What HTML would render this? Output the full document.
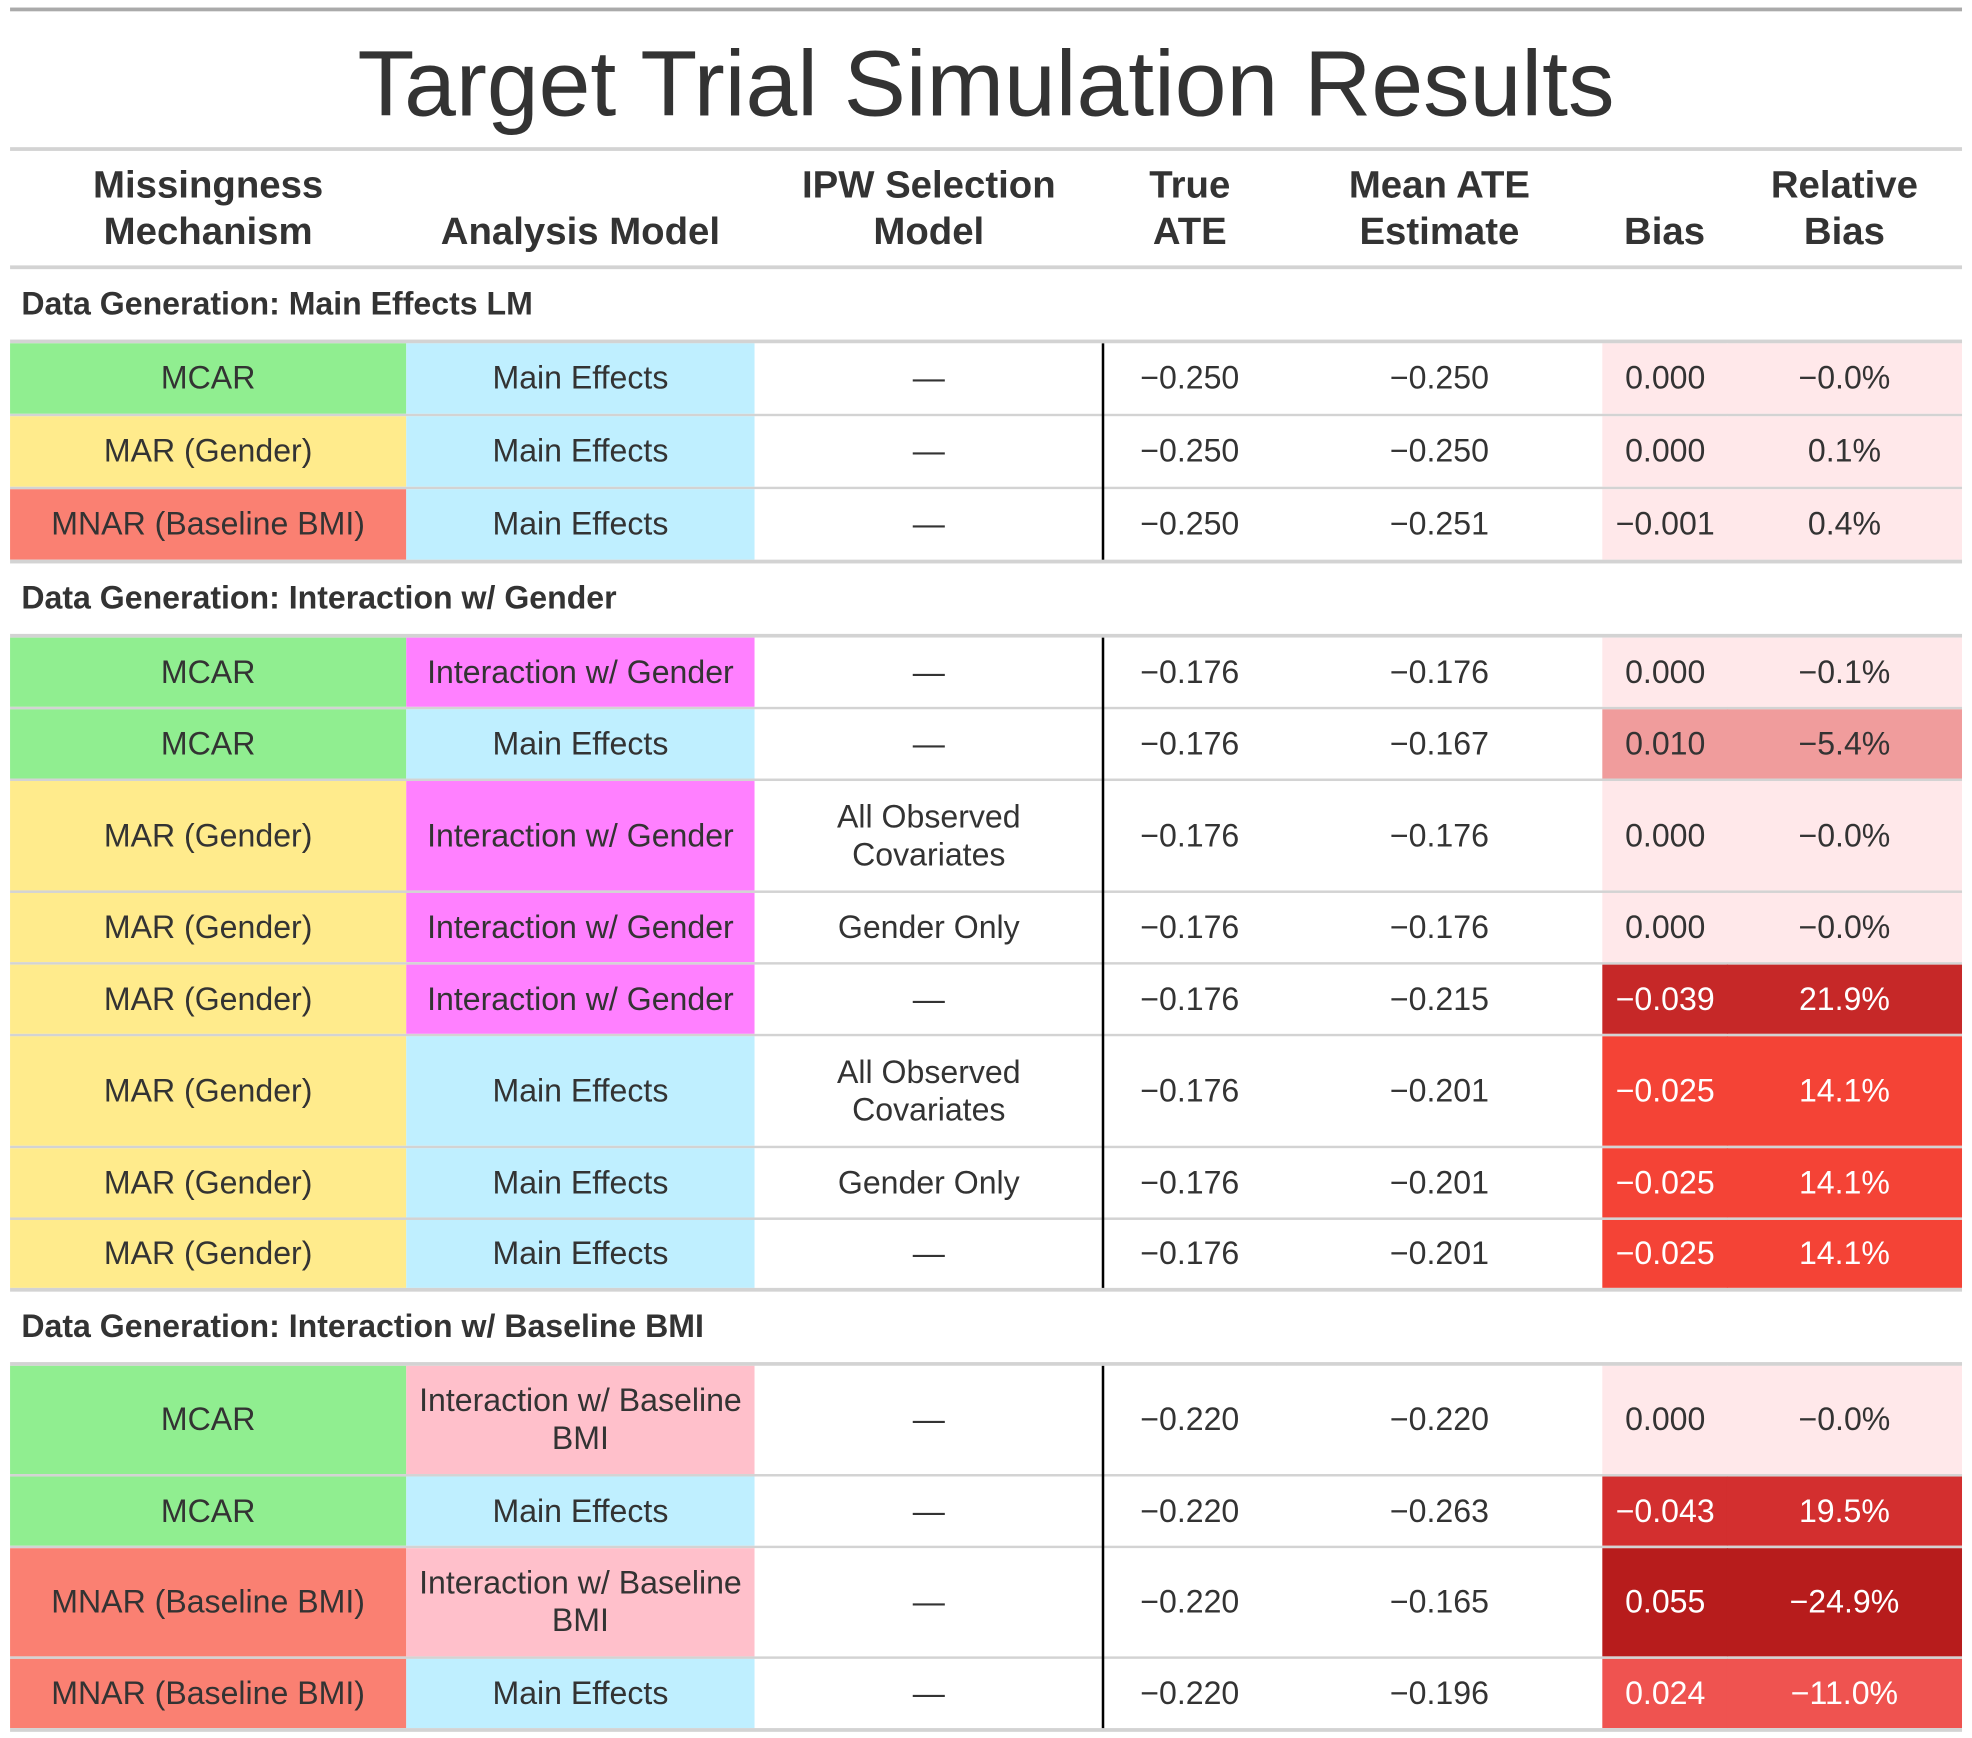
<!DOCTYPE html>
<html><head><meta charset="utf-8"><style>
html,body{margin:0;padding:0;background:#fff;}
body{width:1972px;height:1738px;overflow:hidden;position:relative;font-family:"Liberation Sans",sans-serif;color:#333;}
#wrap{position:absolute;left:0;top:0;width:1568px;height:1382px;transform:scale(1.2577);transform-origin:0 0;}
.abs{position:absolute;}
.hl{position:absolute;left:8px;width:1552px;background:#d3d3d3;}
.cell{position:absolute;display:flex;align-items:center;justify-content:center;text-align:center;font-size:25.5px;line-height:30px;box-sizing:border-box;padding:0 10px;}
.hd{position:absolute;text-align:center;font-weight:bold;font-size:30.5px;line-height:37px;}
.sec{position:absolute;left:17px;font-weight:bold;font-size:25.5px;}
</style></head><body>
<div id="wrap">
<div class="abs" style="left:8px;top:6px;width:1552px;height:3px;background:#aaa"></div>
<div class="abs" style="left:0;width:1568px;top:25px;text-align:center;font-size:74px;line-height:84px;color:#333">Target Trial Simulation Results</div>
<div class="hl" style="top:117px;height:3px"></div>
<div class="hd" style="left:8px;width:315px;top:129px">Missingness<br>Mechanism</div>
<div class="hd" style="left:323px;width:277px;top:166px">Analysis Model</div>
<div class="hd" style="left:600px;width:277px;top:129px">IPW Selection<br>Model</div>
<div class="hd" style="left:877px;width:138px;top:129px">True<br>ATE</div>
<div class="hd" style="left:1015px;width:259px;top:129px">Mean ATE<br>Estimate</div>
<div class="hd" style="left:1274px;width:99px;top:166px">Bias</div>
<div class="hd" style="left:1373px;width:187px;top:129px">Relative<br>Bias</div>
<div class="hl" style="top:211px;height:3px"></div>
<div id="body"></div>
</div>
<script>
const sections = ["Data Generation: Main Effects LM","Data Generation: Interaction w/ Gender","Data Generation: Interaction w/ Baseline BMI"];
const sectionIdx = [0,0,0, 1,1,1,1,1,1,1,1, 2,2,2,2];
const mech = ["MCAR","MAR (Gender)","MNAR (Baseline BMI)","MCAR","MCAR","MAR (Gender)","MAR (Gender)","MAR (Gender)","MAR (Gender)","MAR (Gender)","MAR (Gender)","MCAR","MCAR","MNAR (Baseline BMI)","MNAR (Baseline BMI)"];
const model = ["Main Effects","Main Effects","Main Effects","Interaction w/ Gender","Main Effects","Interaction w/ Gender","Interaction w/ Gender","Interaction w/ Gender","Main Effects","Main Effects","Main Effects","Interaction w/ Baseline BMI","Main Effects","Interaction w/ Baseline BMI","Main Effects"];
const ipw = ["—","—","—","—","—","All Observed Covariates","Gender Only","—","All Observed Covariates","Gender Only","—","—","—","—","—"];
const trueAte = [-0.250,-0.250,-0.250,-0.176,-0.176,-0.176,-0.176,-0.176,-0.176,-0.176,-0.176,-0.220,-0.220,-0.220,-0.220];
const meanAte = [-0.250,-0.250,-0.251,-0.176,-0.167,-0.176,-0.176,-0.215,-0.201,-0.201,-0.201,-0.220,-0.263,-0.165,-0.196];
const bias = [0.000,0.000,-0.001,0.000,0.010,0.000,0.000,-0.039,-0.025,-0.025,-0.025,0.000,-0.043,0.055,0.024];
const relBias = ["−0.0%","0.1%","0.4%","−0.1%","−5.4%","−0.0%","−0.0%","21.9%","14.1%","14.1%","14.1%","−0.0%","19.5%","−24.9%","−11.0%"];
const rowHeights = [58,58,58, 57,57,89,57,57,89,57,56, 88,57,88,57];

const mechColor={"MCAR":"#90ee90","MAR (Gender)":"#ffeb8c","MNAR (Baseline BMI)":"#fa8072"};
const modelColor={"Main Effects":"#bfefff","Interaction w/ Gender":"#ff80ff","Interaction w/ Baseline BMI":"#ffc0cb"};
function biasColor2(b){const a=Math.abs(b);
 if(a<0.005)return["#ffe8ea","#333"];
 if(a<0.015)return["#f09c9c","#333"];
 if(a<0.0245)return["#ef5350","#fff"];
 if(a<0.030)return["#f44336","#fff"];
 if(a<0.042)return["#c62828","#fff"];
 if(a<0.050)return["#d32f2f","#fff"];
 return["#b71c1c","#fff"];}
function fmt(v){return (v<0?"−":"")+Math.abs(v).toFixed(3);}
const cols=[[8,315],[323,277],[600,277],[877,138],[1015,259],[1274,100],[1373,187]];
const body=document.getElementById('body');
function add(html){const d=document.createElement('div');d.innerHTML=html;const e=d.firstChild;body.appendChild(e);return e;}
let y=214, prevSec=-1, groupStart=0;
const secNames=["section-main-effects","section-interaction-gender","section-interaction-bmi"];
function closeGroup(){
 const v=add('<div class="abs"></div>');
 
 
 v.style.cssText=`left:876px;top:${groupStart}px;width:2px;height:${y-groupStart+2}px;background:#000`;
 const l=add('<div class="hl"></div>');
 
 
 l.style.cssText+=`top:${y}px;height:3px`;
 y+=3;}
for(let i=0;i<mech.length;i++){
 if(sectionIdx[i]!==prevSec){
  if(prevSec>=0)closeGroup();
  const s=add('<div class="sec"></div>');
  s.textContent=sections[sectionIdx[i]];
  
  
  s.style.top=(y+14)+'px';
  const l=add('<div class="hl"></div>');
  
  
  l.style.cssText+=`top:${y+56}px;height:3px`;
  y+=59; groupStart=y; prevSec=sectionIdx[i];
 } else {
  const l=add('<div class="hl"></div>');
  
  
  l.style.cssText+=`top:${y}px;height:2px`;
  y+=2;
 }
 const h=rowHeights[i]-2;
 const bc=biasColor2(bias[i]);
 const vals=[mech[i],model[i],ipw[i],fmt(trueAte[i]),fmt(meanAte[i]),fmt(bias[i]),relBias[i]];
 const bgs=[mechColor[mech[i]],modelColor[model[i]],"#fff","#fff","#fff",bc[0],bc[0]];
 const fgs=["#333","#333","#333","#333","#333",bc[1],bc[1]];
 const names=["mechanism-cell","analysis-model-cell","ipw-cell","true-ate-cell","mean-ate-cell","bias-cell","relative-bias-cell"];
 for(let c=0;c<7;c++){
  const e=add('<div class="cell"></div>');
  e.textContent=vals[c];
  
  
  e.style.cssText+=`left:${cols[c][0]}px;width:${cols[c][1]}px;top:${y}px;height:${h}px;background:${bgs[c]};color:${fgs[c]}`;
 }
 y+=h;
}
closeGroup();
</script>
</body></html>
